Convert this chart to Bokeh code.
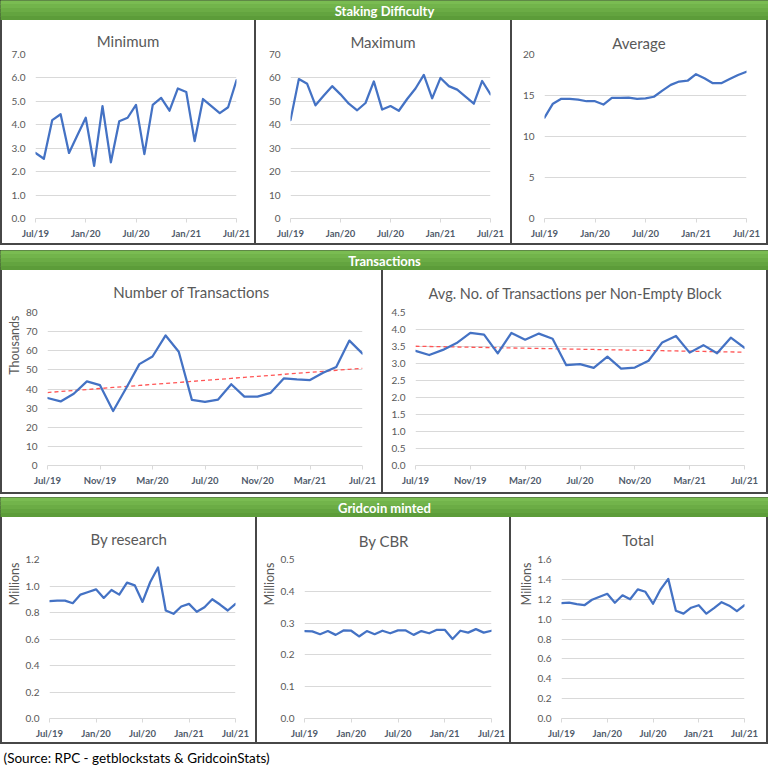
import numpy as np
from bokeh.plotting import figure
from bokeh.layouts import column, row
from bokeh.models import Range1d, FixedTicker, NumeralTickFormatter, Spacer, Title
from bokeh.core.properties import value
from bokeh.embed import file_html
from bokeh.resources import INLINE

# ---------------- data ----------------
months = ["Jul/19", "Aug/19", "Sep/19", "Oct/19", "Nov/19", "Dec/19",
          "Jan/20", "Feb/20", "Mar/20", "Apr/20", "May/20", "Jun/20",
          "Jul/20", "Aug/20", "Sep/20", "Oct/20", "Nov/20", "Dec/20",
          "Jan/21", "Feb/21", "Mar/21", "Apr/21", "May/21", "Jun/21", "Jul/21"]
ticks_6m = ["Jul/19", "Jan/20", "Jul/20", "Jan/21", "Jul/21"]
ticks_4m = ["Jul/19", "Nov/19", "Mar/20", "Jul/20", "Nov/20", "Mar/21", "Jul/21"]

stake_min = [2.8, 2.55, 4.2, 4.45, 2.8, 3.55, 4.3, 2.25, 4.8, 2.4, 4.15, 4.3, 4.85,
             2.75, 4.85, 5.15, 4.6, 5.55, 5.4, 3.3, 5.1, 4.8, 4.5, 4.75, 5.9]
stake_max = [42, 59.5, 57.5, 48.3, 52.5, 56.5, 53, 49, 46.2, 49.3, 58.5, 46.5, 48,
             46, 51, 55.5, 61.3, 51.3, 60, 56.5, 55, 52, 49, 58.7, 53]
stake_avg = [12.3, 14.0, 14.6, 14.6, 14.5, 14.3, 14.3, 13.9, 14.7, 14.7, 14.75, 14.6, 14.65,
             14.85, 15.6, 16.3, 16.7, 16.8, 17.6, 17.1, 16.5, 16.5, 17.0, 17.5, 17.9]
tx_count_k = [35.3, 33.5, 37.5, 44, 42, 28.5, 40.5, 53, 57, 68, 59.5, 34.3, 33.3,
              34.5, 42.5, 36, 36, 38, 45.5, 45, 44.7, 48.5, 51.5, 65.3, 58.5]
tx_per_block = [3.37, 3.25, 3.4, 3.6, 3.9, 3.85, 3.3, 3.9, 3.7, 3.88, 3.73, 2.95, 2.98,
                2.87, 3.2, 2.85, 2.88, 3.08, 3.62, 3.81, 3.32, 3.54, 3.3, 3.76, 3.46]
mint_research = [0.885, 0.89, 0.89, 0.87, 0.935, 0.955, 0.975, 0.91, 0.97, 0.935, 1.025, 1.005, 0.88,
                 1.03, 1.14, 0.815, 0.79, 0.845, 0.865, 0.805, 0.84, 0.9, 0.86, 0.815, 0.865]
mint_cbr = [0.275, 0.274, 0.265, 0.275, 0.263, 0.277, 0.276, 0.258, 0.275, 0.265, 0.276, 0.268, 0.277,
            0.277, 0.263, 0.275, 0.268, 0.279, 0.279, 0.25, 0.276, 0.27, 0.281, 0.27, 0.276]
mint_total = [1.16, 1.165, 1.15, 1.14, 1.195, 1.225, 1.255, 1.165, 1.24, 1.2, 1.3, 1.275, 1.155,
              1.3, 1.405, 1.085, 1.055, 1.115, 1.14, 1.055, 1.11, 1.17, 1.135, 1.08, 1.14]

yt_min = [0, 1, 2, 3, 4, 5, 6, 7]
yt_max = [0, 10, 20, 30, 40, 50, 60, 70]
yt_avg = [0, 5, 10, 15, 20]
yt_tx = [0, 10, 20, 30, 40, 50, 60, 70, 80]
yt_txb = [0, 0.5, 1.0, 1.5, 2.0, 2.5, 3.0, 3.5, 4.0, 4.5]
yt_res = [0, 0.2, 0.4, 0.6, 0.8, 1.0, 1.2]
yt_cbr = [0, 0.1, 0.2, 0.3, 0.4, 0.5]
yt_tot = [0, 0.2, 0.4, 0.6, 0.8, 1.0, 1.2, 1.4, 1.6]

# ---------------- styling ----------------
FONT = "Lato"
GRAY = "#595959"
XLAB = "#4f5a6a"
LINE = "#4472C4"
GRID = "#D9D9D9"
BORDER = "#474747"
W = 768
TITLE_CY = 20.2   # title centre, px below panel top

# rough Lato advance widths (em) used to centre titles on the whole panel
_LW = {" ": .193, ".": .24, "-": .33, "A": .676, "B": .637, "C": .657, "E": .551, "M": .873,
       "N": .748, "R": .6, "T": .55, "a": .49, "b": .55, "c": .455, "d": .55, "e": .515,
       "f": .32, "g": .49, "h": .55, "i": .235, "k": .5, "l": .235, "m": .83, "n": .55,
       "o": .55, "p": .55, "r": .355, "s": .42, "t": .34, "u": .55, "v": .49, "x": .48, "y": .49}


def text_w(s, px):
    return sum(_LW.get(ch, .55) for ch in s) * px * 1.03


def chart(title, y, yticks, fmt, w, h, L, R, T, B, xticks, ylabel=None, trend=False, tpx=15):
    x = list(range(len(months)))
    p = figure(width=w, height=h, x_range=Range1d(0, len(months) - 1),
               y_range=Range1d(yticks[0], yticks[-1]), title=None,
               output_backend="svg", toolbar_location=None,
               min_border_left=L, min_border_right=R, min_border_top=T, min_border_bottom=B)
    p.outline_line_color = None
    p.border_fill_color = "white"
    p.background_fill_color = "white"
    p.xgrid.visible = False
    p.ygrid.grid_line_color = GRID
    p.ygrid.grid_line_width = 1

    idx = [months.index(m) for m in xticks]
    xa = p.xaxis[0]
    xa.ticker = FixedTicker(ticks=idx)
    xa.major_label_overrides = {i: months[i] for i in idx}
    xa.axis_line_color = GRID
    xa.major_tick_line_color = GRID
    xa.major_tick_out = 4
    xa.major_tick_in = 0
    xa.minor_tick_line_color = None
    xa.major_label_standoff = 5
    xa.major_label_text_font = FONT
    xa.major_label_text_font_size = "9.5px"
    xa.major_label_text_font_style = "bold"
    xa.major_label_text_color = XLAB

    ya = p.yaxis[0]
    ya.ticker = FixedTicker(ticks=yticks)
    if fmt:
        ya.formatter = NumeralTickFormatter(format=fmt)
    ya.axis_line_color = None
    ya.major_tick_line_color = None
    ya.minor_tick_line_color = None
    ya.major_tick_out = 0
    ya.major_label_standoff = 10
    ya.major_label_text_font = FONT
    ya.major_label_text_font_size = "10px"
    ya.major_label_text_color = GRAY

    if trend:
        coef = np.polyfit(x, y, 1)
        p.line(x, np.polyval(coef, x), line_color="#FF5555", line_width=1.3, line_dash="4 3")
    p.line(x, y, line_color=LINE, line_width=2.25, line_join="round", line_cap="round")

    # chart title, centred on the whole panel (Excel style)
    off = w / 2 - L - text_w(title, tpx) / 2
    sto = max(0.0, 2 * T - 2 * TITLE_CY - 2 - 1.2 * tpx)
    p.add_layout(Title(text=title, align="left", offset=off, vertical_align="middle",
                       standoff=sto, text_font=FONT, text_font_size=f"{tpx}px",
                       text_font_style="normal", text_color=GRAY), "above")
    if ylabel:
        p.add_layout(Title(text=ylabel, align="right", offset=3, vertical_align="middle",
                           standoff=0, text_font=FONT, text_font_size="12.5px",
                           text_font_style="normal", text_color=GRAY), "left")
    return p


def header(text, w=W, h=20):
    p = figure(width=w, height=h, x_range=Range1d(0, 1), y_range=Range1d(0, 1),
               output_backend="svg", toolbar_location=None, title=None,
               x_axis_location=None, y_axis_location=None, min_border=0)
    p.grid.visible = False
    n = 5
    edges = np.linspace(1, 0, n + 1)
    c0 = np.array([0x7A, 0xBC, 0x52])
    c1 = np.array([0x5C, 0x9C, 0x39])
    cols = ["#%02x%02x%02x" % tuple(int(v) for v in (c0 + (c1 - c0) * k / (n - 1))) for k in range(n)]
    p.quad(left=0, right=1, top=edges[:-1], bottom=edges[1:], fill_color=cols, line_color=cols,
           line_width=1)
    p.text(x=[0.5], y=[0.5], text=[text], text_align="center", text_baseline="middle",
           text_font=value(FONT), text_font_style="bold", text_font_size="13px", text_color="white")
    p.outline_line_color = "#333333"
    p.outline_line_width = 3
    return p


def vbar(h):
    return Spacer(width=2, height=h, styles={"background-color": BORDER})


def hbar():
    return Spacer(width=W, height=2, styles={"background-color": BORDER})


H1, H2, H3 = 223, 222, 225

c_min = chart("Minimum", stake_min, yt_min, "0.0", 252, H1, 33, 18, 34, 25, ticks_6m)
c_max = chart("Maximum", stake_max, yt_max, None, 254, H1, 34, 20, 33, 25, ticks_6m)
c_avg = chart("Average", stake_avg, yt_avg, None, 254, H1, 32, 20, 32, 23, ticks_6m)

c_tx = chart("Number of Transactions", tx_count_k, yt_tx, None, 379, H2, 45, 19, 41, 27, ticks_4m,
             ylabel="Thousands", trend=True)
c_txb = chart("Avg. No. of Transactions per Non-Empty Block", tx_per_block, yt_txb, "0.0", 383, H2,
              32, 22, 40, 27, ticks_4m, trend=True, tpx=14.5)

c_res = chart("By research", mint_research, yt_res, "0.0", 253, H3, 47, 20, 41, 24, ticks_6m,
              ylabel="Millions")
c_cbr = chart("By CBR", mint_cbr, yt_cbr, "0.0", 252, H3, 47, 18, 39, 24, ticks_6m,
              ylabel="Millions")
c_tot = chart("Total", mint_total, yt_tot, "0.0", 255, H3, 50, 22, 40, 23, ticks_6m,
              ylabel="Millions")

src = figure(width=W, height=22, x_range=Range1d(0, 1), y_range=Range1d(0, 1),
             output_backend="svg", toolbar_location=None, title=None,
             x_axis_location=None, y_axis_location=None, min_border=0)
src.grid.visible = False
src.outline_line_color = None
src.text(x=[0.004], y=[0.4], text=["(Source: RPC - getblockstats & GridcoinStats)"],
         text_align="left", text_baseline="middle",
         text_font=value(FONT), text_font_size="13.5px", text_color="black")

layout = column(
    header("Staking Difficulty"),
    row(vbar(H1), c_min, vbar(H1), c_max, vbar(H1), c_avg, vbar(H1)),
    hbar(),
    Spacer(width=W, height=5),
    header("Transactions"),
    row(vbar(H2), c_tx, vbar(H2), c_txb, vbar(H2)),
    hbar(),
    Spacer(width=W, height=3),
    header("Gridcoin minted"),
    row(vbar(H3), c_res, vbar(H3), c_cbr, vbar(H3), c_tot, vbar(H3)),
    hbar(),
    src,
)

open("out.html", "w").write(file_html(layout, INLINE))
